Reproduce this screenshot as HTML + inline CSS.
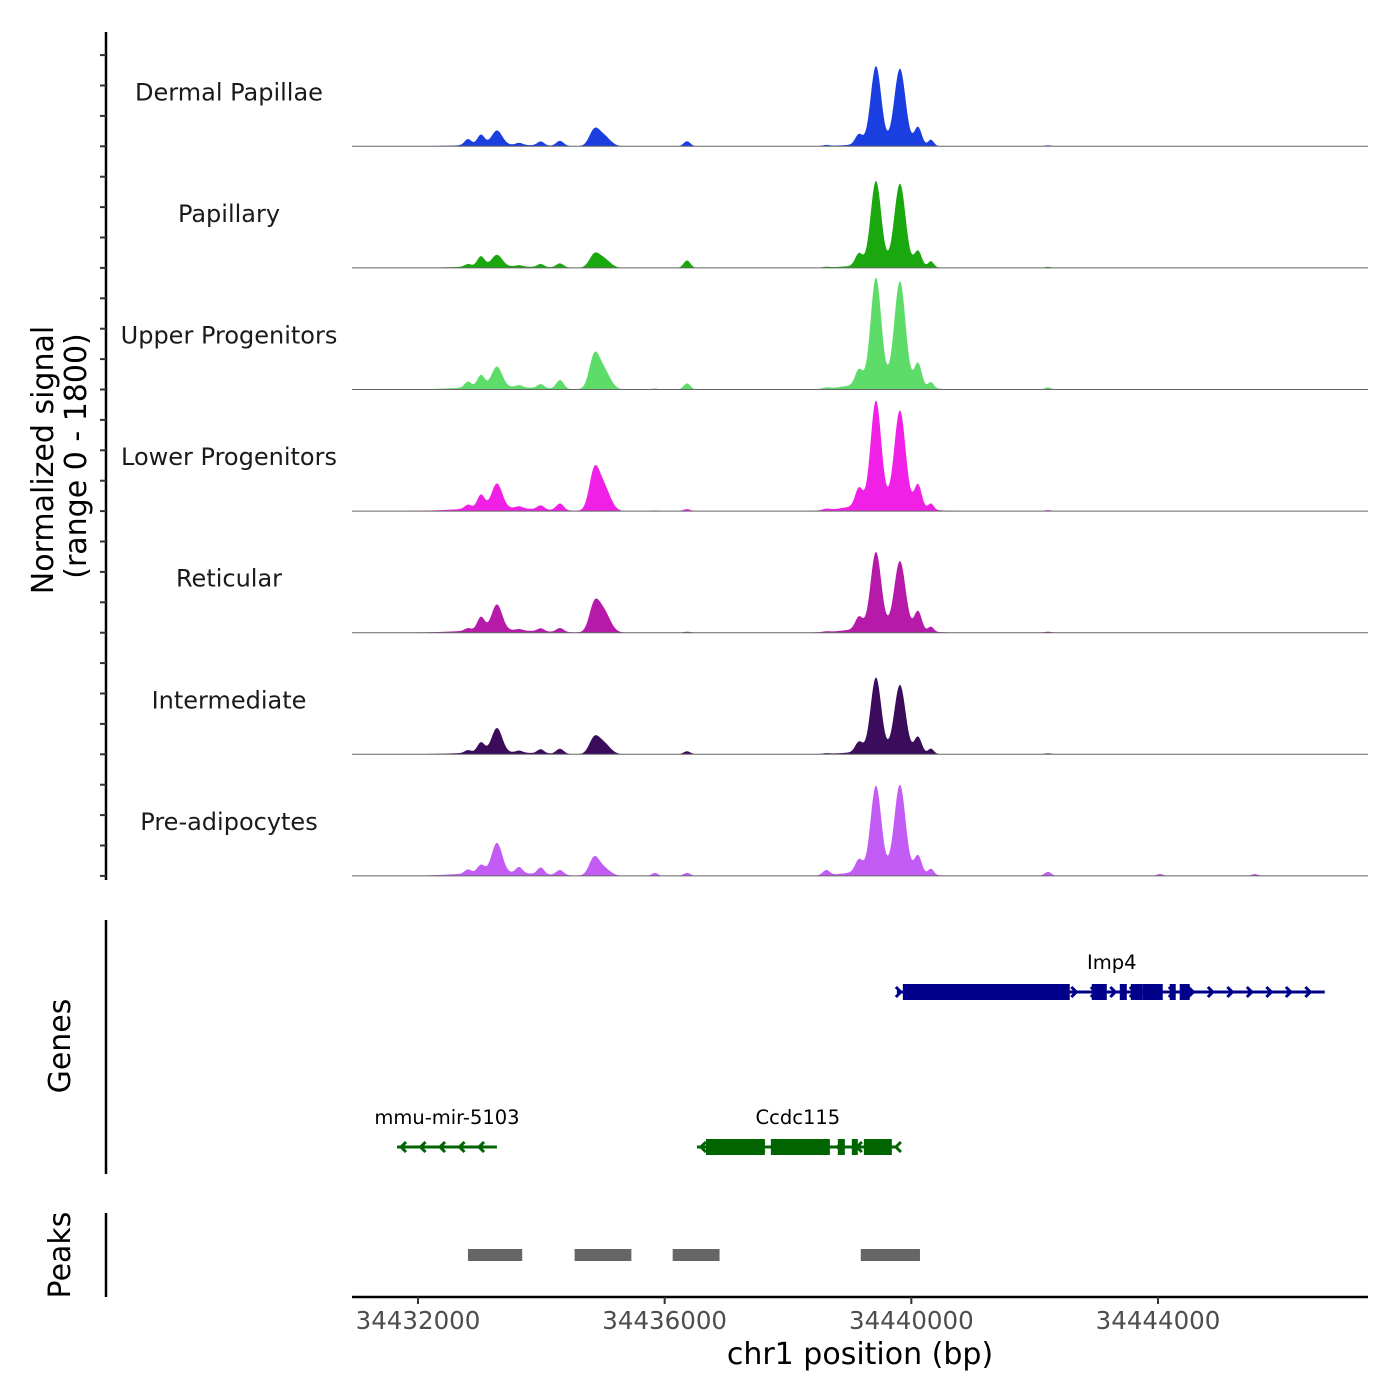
<!DOCTYPE html>
<html><head><meta charset="utf-8"><style>
html,body{margin:0;padding:0;background:#fff}
svg{display:block;font-family:"DejaVu Sans","Liberation Sans",sans-serif}
</style></head><body>
<svg id="chart" width="1400" height="1400" viewBox="0 0 1400 1400"></svg>
<script>
// ---- data ----
const xStart = 34430930, xEnd = 34447405;
const xTicks = [34432000, 34436000, 34440000, 34444000];
const yMax = 1800;
const trackNames = ["Dermal Papillae","Papillary","Upper Progenitors","Lower Progenitors","Reticular","Intermediate","Pre-adipocytes"];
const trackColors = ["#1a3ee0","#1aa80e","#5ddc6a","#f020e6","#b51aa8","#3b0b5c","#c35cf5"];
// peak centers (bp) and widths (bp, sigma)
const peakCenters = [34432811,34433021,34433280,34433640,34433990,34434302,34434853,34435000,34435840,34436362,34438620,34439150,34439426,34439815,34440108,34440318,34442215,34444030,34445570,34433300,34439500];
const peakWidths  = [55,60,85,55,55,60,80,110,50,55,55,60,85,90,60,45,55,50,50,600,450];
const dermal   = [90,150,210,30,60,75,200,160,0,75,15,150,1150,1120,270,90,15,0,0,25,40];
const papillary= [40,150,170,20,45,60,160,140,0,110,10,180,1240,1210,235,90,15,0,0,25,50];
const upper    = [90,180,300,30,60,130,420,300,15,90,15,220,1550,1520,350,90,30,0,0,40,110];
const lower    = [60,200,360,30,60,100,500,380,10,30,20,260,1520,1400,350,90,15,0,0,50,120];
const reticular= [40,200,380,20,45,60,340,330,0,15,10,180,1120,1000,290,75,15,0,0,40,80];
const intermed = [40,150,360,30,60,75,200,170,0,45,10,150,1090,990,240,75,15,0,0,30,50];
const preadip  = [60,120,440,90,100,75,240,120,45,45,75,180,1250,1280,270,90,60,30,30,50,90];
const trackValues = [dermal,papillary,upper,lower,reticular,intermed,preadip];
const peakRegions = [[34432810,34433690],[34434540,34435460],[34436130,34436890],[34439180,34440140]];
const genes = [
 {name:"Imp4",start:34439765,end:34446703,strand:1,row:0,color:"#00008b",
  exons:[[34439862,34442569],[34442926,34443169],[34443380,34443494],[34443559,34443753],[34443753,34444077],[34444190,34444287],[34444352,34444514]],labelPos:34443250},
 {name:"Ccdc115",start:34436523,end:34439781,strand:-1,row:1,color:"#006400",
  exons:[[34436669,34437625],[34437722,34438679],[34438808,34438922],[34439035,34439132],[34439230,34439684]],labelPos:34438160},
 {name:"mmu-mir-5103",start:34431660,end:34433280,strand:-1,row:1,color:"#006400",exons:[],labelPos:34432470}
];
// ---- layout ----
const L=352,R=1368;
const X = v => L + (v-xStart)/(xEnd-xStart)*(R-L);
const trackH = 121.6, firstBase = 146.3;
const NS="http://www.w3.org/2000/svg";
const svg=document.getElementById('chart');
function el(tag,attrs,parent){const e=document.createElementNS(NS,tag);for(const k in attrs)e.setAttribute(k,attrs[k]);(parent||svg).appendChild(e);return e;}
function sig(vals,bp){let s=0;for(let i=0;i<peakCenters.length;i++){const d=(bp-peakCenters[i])/peakWidths[i];s+=vals[i]*Math.exp(-0.5*d*d);}return s;}

trackValues.forEach((vals,t)=>{
  const base=firstBase+t*trackH;
  const Y=v=>base-(v/yMax)*trackH;
  const g=el('g',{});
  
  
  let d='M'+L+','+base;
  for(let px=L;px<=R;px+=1){const bp=xStart+(px-L)/(R-L)*(xEnd-xStart);d+=' L'+px+','+Y(sig(vals,bp)).toFixed(2);}
  d+=' L'+R+','+base+' Z';
  const a=el('path',{d:d,fill:trackColors[t]},g);
  
  
  const bl=el('line',{x1:L,x2:R,y1:base,y2:base,stroke:'#666',"stroke-width":1},g);
  
  
  const lb=el('text',{x:229,y:base-46,"text-anchor":"middle","font-size":24,fill:"#1a1a1a"},g);
  lb.textContent=trackNames[t];
  
  
});
// left axis
const ax=el('line',{x1:106,x2:106,y1:32,y2:880,stroke:'#000',"stroke-width":2.5});


for(let t=0;t<7;t++){for(let k=0;k<4;k++){const y=firstBase+t*trackH-k*trackH/4;
  const tk=el('line',{x1:100,x2:106,y1:y,y2:y,stroke:'#333',"stroke-width":2});
  
  }}
const yt=el('text',{transform:'translate(53,460) rotate(-90)',"text-anchor":"middle","font-size":30,fill:"#000"});
yt.textContent='Normalized signal';


const yt2=el('text',{transform:'translate(86,456) rotate(-90)',"text-anchor":"middle","font-size":30,fill:"#000"});
yt2.textContent='(range 0 - 1800)';


// genes
const ga=el('line',{x1:106,x2:106,y1:920,y2:1174,stroke:'#000',"stroke-width":2.5});


const gt=el('text',{transform:'translate(70,1046) rotate(-90)',"text-anchor":"middle","font-size":30,fill:"#000"});
gt.textContent='Genes';


genes.forEach(g=>{
  const y=g.row===0?992:1147;
  const gg=el('g',{});
  
  
  el('line',{x1:X(g.start),x2:X(g.end),y1:y,y2:y,stroke:g.color,"stroke-width":3},gg);
  const x0=X(g.start),x1=X(g.end);
  for(let x=x0+4;x<=x1+0.1;x+=19.5){
    const xx=g.strand>0?Math.min(x,x1):x;const s=g.strand*5;
    el('polyline',{points:(xx-s)+','+(y-5)+' '+xx+','+y+' '+(xx-s)+','+(y+5),fill:'none',stroke:g.color,"stroke-width":3},gg);
  }
  g.exons.forEach(e=>{el('rect',{x:X(e[0]),y:y-8,width:X(e[1])-X(e[0]),height:16,fill:g.color},gg);});
  const t=el('text',{x:X(g.labelPos),y:y-23,"text-anchor":"middle","font-size":19.5,fill:"#000"},gg);
  t.textContent=g.name;
});
// peaks
const pa=el('line',{x1:106,x2:106,y1:1213,y2:1297,stroke:'#000',"stroke-width":2.5});


const pt=el('text',{transform:'translate(70,1255) rotate(-90)',"text-anchor":"middle","font-size":30,fill:"#000"});
pt.textContent='Peaks';


peakRegions.forEach(p=>{
  const r=el('rect',{x:X(p[0]),y:1249,width:X(p[1])-X(p[0]),height:12,fill:'#666'});
  
  
});
// x axis
const xa=el('line',{x1:L,x2:R,y1:1297,y2:1297,stroke:'#000',"stroke-width":2.5});


xTicks.forEach(v=>{
  const tk=el('line',{x1:X(v),x2:X(v),y1:1297,y2:1304,stroke:'#333',"stroke-width":2});
  
  
  const t=el('text',{x:X(v),y:1329,"text-anchor":"middle","font-size":24.5,fill:"#4d4d4d"});
  t.textContent=v;
  
  
});
const xt=el('text',{x:860,y:1364,"text-anchor":"middle","font-size":30,fill:"#000"});
xt.textContent='chr1 position (bp)';


</script>
</body></html>
